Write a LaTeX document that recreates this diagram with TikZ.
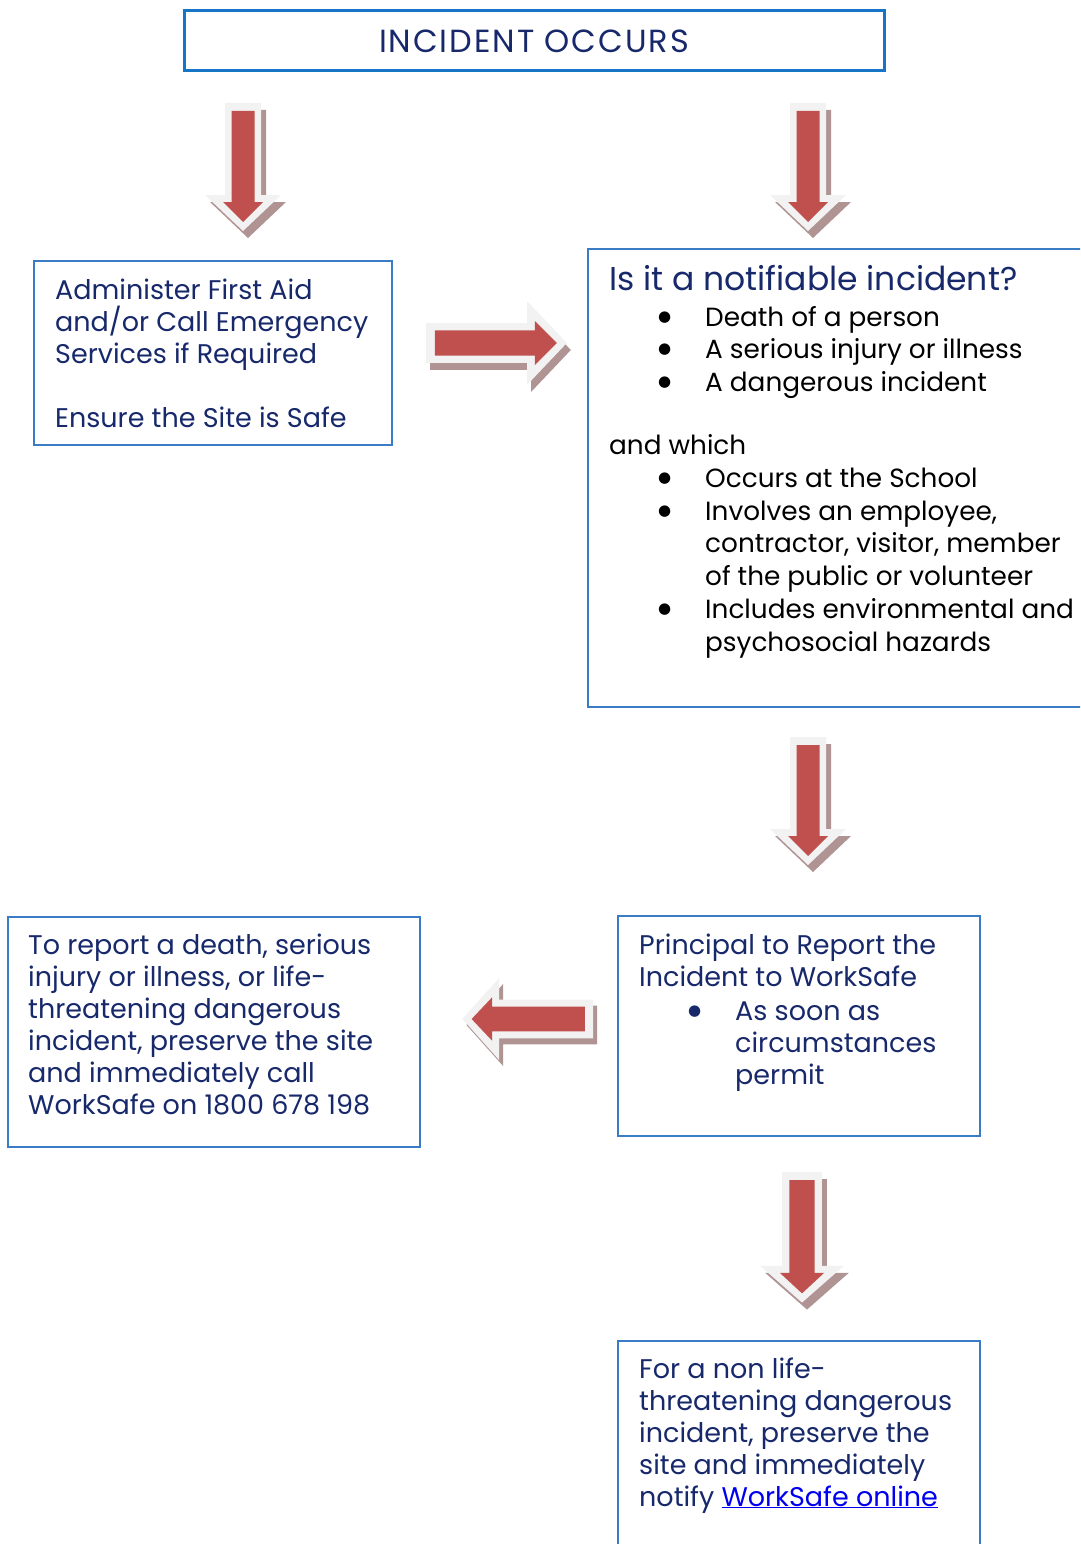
\documentclass[tikz,border=0pt]{standalone}
\usepackage{fontspec}
\setmainfont{Poppins}
\newfontfamily\dejavu{DejaVu Sans}
\definecolor{navy}{HTML}{17296B}
\definecolor{topblue}{HTML}{1775C8}
\definecolor{boxblue}{HTML}{3B7DC4}
\definecolor{arrowred}{HTML}{C0504D}
\definecolor{arrowlight}{HTML}{F2F2F2}
\definecolor{arrowshadow}{HTML}{B09494}
\definecolor{linkblue}{HTML}{0000EE}
\newcommand\bigbul{\raisebox{5pt}{\dejavu\fontsize{15}{15}\selectfont ●}}
\newcommand\bulitem{\hspace*{49pt}\makebox[47pt][l]{\bigbul}}
\newcommand\contitem{\hspace*{96pt}}
\newcommand\lines[1]{\parbox[t]{480pt}{\raggedright\lineskiplimit=-100pt #1}}
\tikzset{
  box/.style={draw=boxblue, line width=1.5pt, inner sep=0pt, outer sep=0pt, anchor=north west},
  txt/.style={inner sep=0pt, anchor=base west, text=navy, font=\fontsize{27}{32}\selectfont},
  pics/barrow/.style={code={
    \fill[arrowlight] (-18,0) -- (18,0) -- (18,92) -- (38,92) -- (0,128) -- (-38,92) -- (-18,92) -- cycle;
    \fill[arrowred] (-11.5,8) -- (11.5,8) -- (11.5,99) -- (20,99) -- (0,119) -- (-20,99) -- (-11.5,99) -- cycle;
  }},
  pics/barrowshadow/.style={code={
    \fill[arrowshadow] (-18,0) -- (18,0) -- (18,92) -- (38,92) -- (0,128) -- (-38,92) -- (-18,92) -- cycle;
  }}
}
\begin{document}
\begin{tikzpicture}[x=1pt,y=-1pt]
\useasboundingbox (0,0) rectangle (1080,1544);
\clip (0,0) rectangle (1080,1544);
\fill[white] (0,0) rectangle (1080,1544);

% boxes
\node[box, draw=topblue, line width=3pt, minimum width=700pt, minimum height=60pt, text=navy,
  font=\fontsize{32}{36}\selectfont\addfontfeature{LetterSpace=6}] (top) at (184,11) {INCIDENT OCCURS};
\node[box, minimum width=358pt, minimum height=184pt] (aid) at (34,261) {};
\node[box, minimum width=505pt, minimum height=458pt] (notif) at (588,249) {};
\node[box, minimum width=412pt, minimum height=230pt] (call) at (8,917) {};
\node[box, minimum width=362pt, minimum height=220pt] (princ) at (618,916) {};
\node[box, minimum width=362pt, minimum height=230pt] (online) at (618,1341) {};

% texts
\node[txt] (aidtxt) at (55,299) {\lines{Administer First Aid\\and/or Call Emergency\\Services if Required\\[32pt]Ensure the Site is Safe}};
\node[txt, font=\fontsize{33}{38}\selectfont] (qtitle) at (609,290) {Is it a notifiable incident?};
\node[txt, text=black, font=\fontsize{26.3}{32.8}\selectfont] (qlist) at (609,326)
  {\lines{\bulitem Death of a person\\
   \bulitem A serious injury or illness\\
   \bulitem A dangerous incident\\[30pt]
   and which\\
   \bulitem Occurs at the School\\
   \bulitem Involves an employee,\\
   \contitem contractor, visitor, member\\
   \contitem of the public or volunteer\\
   \bulitem Includes environmental and\\
   \contitem psychosocial hazards}};
\node[txt] (calltxt) at (28,954) {\lines{To report a death, serious\\injury or illness, or life-\\threatening dangerous\\incident, preserve the site\\and immediately call\\WorkSafe on 1800 678 198}};
\node[txt] (princtitle) at (639,954) {\lines{Principal to Report the\\Incident to WorkSafe}};
\node[txt] (princlist) at (639,1020) {\lines{\bulitem As soon as\\\contitem circumstances\\\contitem permit}};
\node[txt] (onlinetxt) at (639,1378) {\lines{For a non life-\\threatening dangerous\\incident, preserve the\\site and immediately\\notify \textcolor{linkblue}{\underline{WorkSafe online}}}};

% block arrows
\pic at (248,110) {barrowshadow};
\pic at (243,103) {barrow};
\pic at (813,110) {barrowshadow};
\pic at (808,103) {barrow};
\pic at (813,744) {barrowshadow};
\pic at (808,737) {barrow};
\pic[xscale=1.1, yscale=1.02] at (807,1179) {barrowshadow};
\pic[xscale=1.1, yscale=1.02] at (802,1172) {barrow};
\pic[rotate=90, xscale=1.1, yscale=1.1] at (430,350) {barrowshadow};
\pic[rotate=90, xscale=1.1, yscale=1.1] at (426,343) {barrow};
\pic[rotate=-90, xscale=1.08, yscale=1.02] at (597,1025) {barrowshadow};
\pic[rotate=-90, xscale=1.08, yscale=1.02] at (593,1019) {barrow};
\end{tikzpicture}
\end{document}
